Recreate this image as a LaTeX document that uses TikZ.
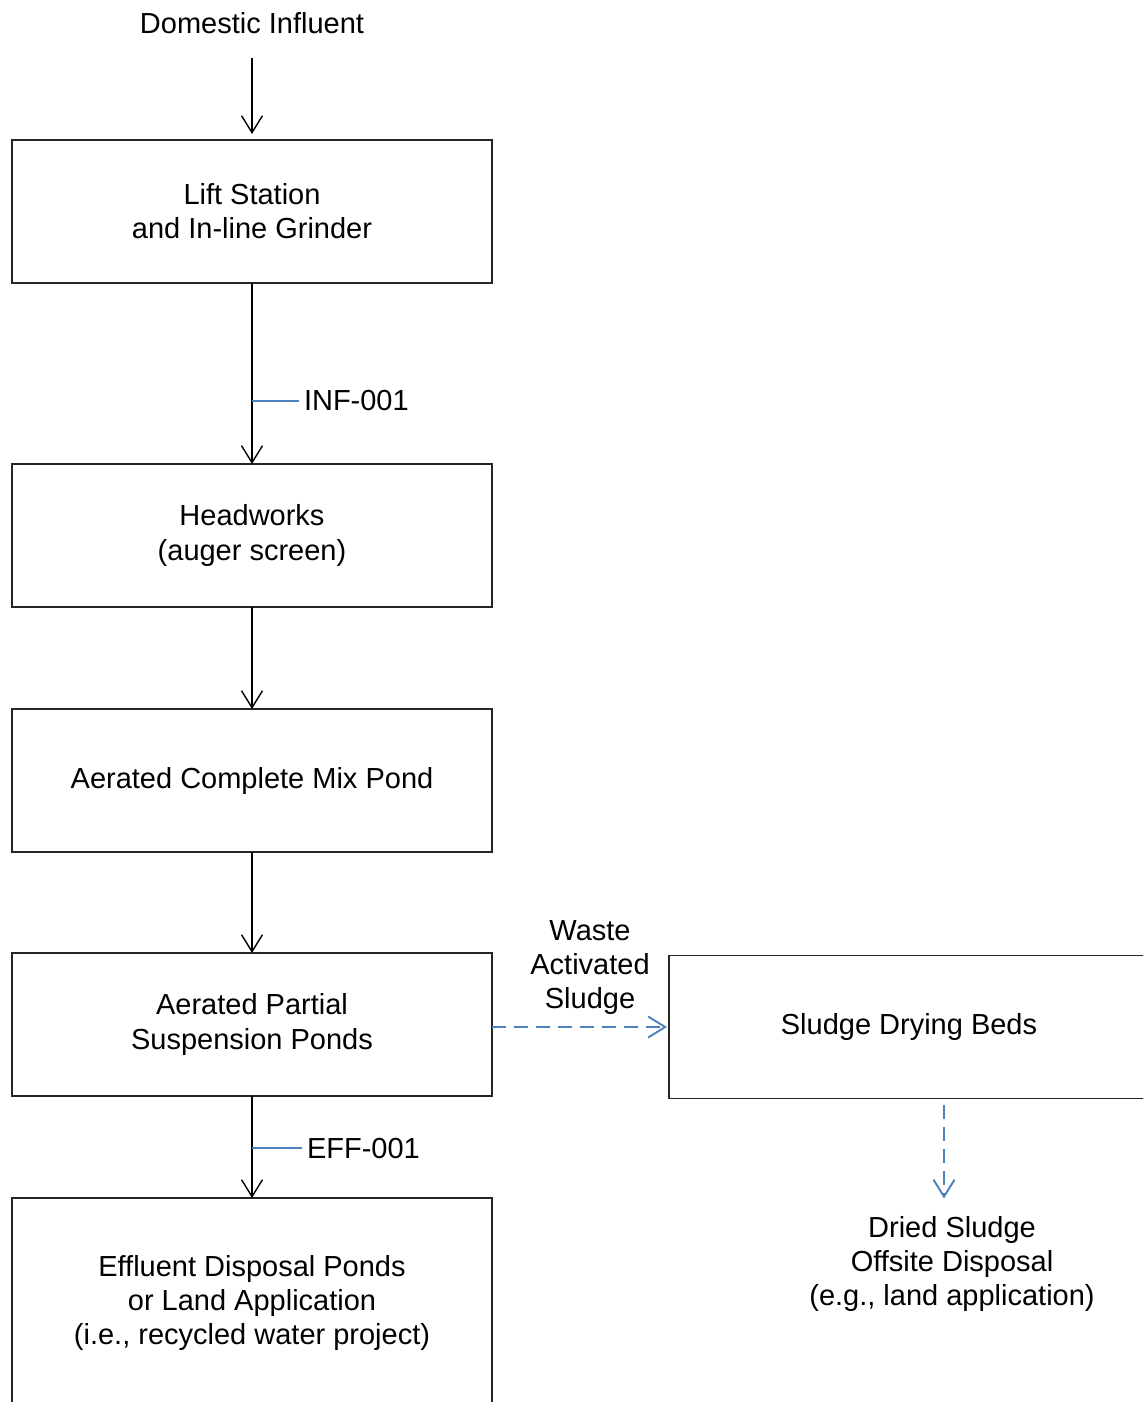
\documentclass[tikz,border=0pt]{standalone}
\usepackage{fontspec}
\setmainfont{Liberation Sans}
\usepackage{xcolor}
\usetikzlibrary{arrows.meta,positioning}
\definecolor{tagblue}{RGB}{79,129,189}

\begin{document}
\begin{tikzpicture}[node distance=2.04cm, auto,
    font=\fontsize{16.5pt}{19.4pt}\selectfont,
    block/.style={rectangle, draw=black!85, line width=0.8pt, minimum width=9.6cm, minimum height=2.86cm, align=center, inner sep=0pt, outer sep=0pt},
    plain_text/.style={inner sep=0pt, outer sep=0pt, align=center},
    line/.style={draw, line width=0.8pt, -{Straight Barb[length=3.4mm, width=4.2mm]}},
    line_waste/.style={draw=tagblue, line width=1.1pt, dash pattern=on 0.28cm off 0.16cm, -{Straight Barb[length=3.4mm, width=4.2mm]}},
    tick/.style={draw=tagblue, line width=1.1pt}]

    \clip (0,0) rectangle (22.86,-28.04);

    \node [block] (lift) at (5.04,-4.23) {Lift Station\\and In-line Grinder};
    \node [plain_text, above=2.12cm of lift] (dom) {Domestic Influent};
    \node [block, below=3.62cm of lift] (head) {Headworks\\(auger screen)};
    \node [block, below=2.04cm of head] (mix) {Aerated Complete Mix Pond};
    \node [block, below=2.02cm of mix] (partial) {Aerated Partial\\Suspension Ponds};
    \node [block, below=2.04cm of partial, minimum height=4.2cm] (eff) {Effluent Disposal Ponds\\or Land Application\\(i.e., recycled water project)};
    \node [block, right=3.54cm of partial, yshift=-0.05cm] (drybeds) {Sludge Drying Beds};
    \node [plain_text, below=2.36cm of drybeds, xshift=0.86cm] (dried) {Dried Sludge\\Offsite Disposal\\(e.g., land application)};

    \path [line, shorten <=0.48cm, shorten >=0.12cm] (dom) -- (lift);
    \path [line] (lift) -- coordinate[pos=0.65] (infpt) (head);
    \path [line] (head) -- (mix);
    \path [line] (mix) -- (partial);
    \path [line] (partial) -- coordinate[pos=0.51] (effpt) (eff);

    % sample points
    \node [plain_text, right=1.04cm of infpt] (inf) {INF-001};
    \node [plain_text, right=1.1cm of effpt] (effl) {EFF-001};
    \path [tick, shorten >=0.1cm] (infpt) -- (inf);
    \path [tick, shorten >=0.1cm] (effpt) -- (effl);

    % sludge handling
    \path [line_waste, shorten >=0.04cm] (partial.east |- drybeds) -- node [plain_text, above=0.24cm, xshift=0.19cm] (was) {Waste\\Activated\\Sludge} (drybeds);
    \path [line_waste, shorten <=0.12cm, shorten >=0.36cm] ([xshift=0.7cm]drybeds.south) -- ([xshift=0.7cm]drybeds.south |- dried.north);
\end{tikzpicture}
\end{document}
